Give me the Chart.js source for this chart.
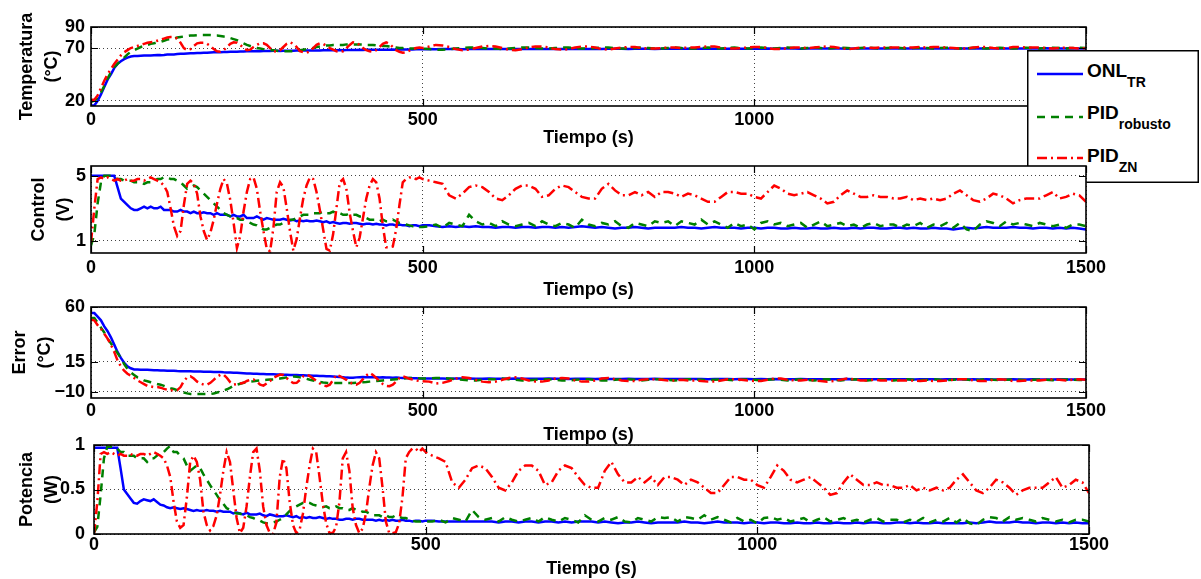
<!DOCTYPE html>
<html>
<head>
<meta charset="utf-8">
<script src="https://cdn.jsdelivr.net/npm/chart.js@4.4.0/dist/chart.umd.min.js"></script>
<style>
  html, body { margin: 0; padding: 0; background: #fff; overflow: hidden; }
  #figura { position: relative; width: 1201px; height: 579px; overflow: hidden; background: #fff; }
  #figura canvas { position: absolute; left: 0; }
  #leyenda { position: absolute; left: 1027px; top: 50px; z-index: 2; }
</style>
</head>
<body>
<div id="figura">
  <canvas id="c1" style="z-index:1"></canvas>
  <svg id="leyenda" width="173" height="134" xmlns="http://www.w3.org/2000/svg"></svg>
  <canvas id="c2" style="z-index:3"></canvas>
  <canvas id="c3" style="z-index:4"></canvas>
  <canvas id="c4" style="z-index:5"></canvas>
</div>
<script>
// Tiempo (s): cada 5 s hasta 500, luego cada 10 s
const tiempo = [
  0, 5, 10, 15, 20, 25, 30, 35, 40, 45, 50, 55, 60, 65, 70, 75, 80, 85, 90, 95,
  100, 105, 110, 115, 120, 125, 130, 135, 140, 145, 150, 155, 160, 165, 170, 175, 180, 185, 190, 195,
  200, 205, 210, 215, 220, 225, 230, 235, 240, 245, 250, 255, 260, 265, 270, 275, 280, 285, 290, 295,
  300, 305, 310, 315, 320, 325, 330, 335, 340, 345, 350, 355, 360, 365, 370, 375, 380, 385, 390, 395,
  400, 405, 410, 415, 420, 425, 430, 435, 440, 445, 450, 455, 460, 465, 470, 475, 480, 485, 490, 495,
  500,
  510, 520, 530, 540, 550, 560, 570, 580, 590, 600, 610, 620, 630, 640, 650, 660, 670, 680, 690, 700,
  710, 720, 730, 740, 750, 760, 770, 780, 790, 800, 810, 820, 830, 840, 850, 860, 870, 880, 890, 900,
  910, 920, 930, 940, 950, 960, 970, 980, 990, 1000, 1010, 1020, 1030, 1040, 1050, 1060, 1070, 1080, 1090, 1100,
  1110, 1120, 1130, 1140, 1150, 1160, 1170, 1180, 1190, 1200, 1210, 1220, 1230, 1240, 1250, 1260, 1270, 1280, 1290, 1300,
  1310, 1320, 1330, 1340, 1350, 1360, 1370, 1380, 1390, 1400, 1410, 1420, 1430, 1440, 1450, 1460, 1470, 1480, 1490, 1500
];

const nombres = ['ONL', 'PID', 'PID'];
const subindices = ['TR', 'robusto', 'ZN'];

const ticksTiempo = [0, 500, 1000, 1500];
const ticksTemp = [20, 70, 90];
const ticksControl = [1, 5];
const ticksError = [-10, 15, 60];
const ticksPotencia = [0, 0.5, 1];

// Temperatura (°C)
const tempONL = [
  15.5, 15.5, 20, 26, 33, 40, 45, 51, 55, 57.5,
  59.5, 61, 62, 62.5, 62.5, 62.8, 63, 63, 63, 63.2,
  63.4, 63.3, 63.5, 63.8, 64, 64, 64.3, 64.5, 64.5, 64.8,
  65, 65, 65.2, 65.3, 65.5, 65.5, 65.8, 66, 66, 66,
  66.2, 66.3, 66.5, 66.5, 66.6, 66.8, 66.8, 67, 67, 67,
  67.2, 67, 67.2, 67.3, 67.2, 67.4, 67.4, 67.2, 67.5, 67.5,
  67.5, 67.5, 67.6, 67.7, 67.7, 67.8, 67.7, 67.8, 67.8, 67.8,
  68, 67.9, 68, 68, 68, 68.1, 68, 68.1, 68.2, 68.2,
  68.2, 68.3, 68.2, 68.3, 68.3, 68.4, 68.4, 68.4, 68.5, 68.5,
  68.5, 68.6, 68.5, 68.6, 68.6, 68.7, 68.7, 68.7, 68.8, 68.8,
  68.8,
  69.0, 68.9, 69.0, 69.1, 69.0, 68.9, 69.0, 69.1, 69.1, 69.0,
  69.1, 69.2, 69.1, 69.0, 69.1, 69.2, 69.2, 69.1, 69.0, 69.1,
  69.2, 69.3, 69.2, 69.1, 69.2, 69.3, 69.2, 69.3, 69.4, 69.3,
  69.2, 69.3, 69.4, 69.3, 69.2, 69.3, 69.4, 69.3, 69.3, 69.4,
  69.3, 69.4, 69.5, 69.4, 69.3, 69.4, 69.5, 69.4, 69.4, 69.5,
  69.4, 69.5, 69.4, 69.5, 69.6, 69.5, 69.4, 69.5, 69.6, 69.5,
  69.5, 69.6, 69.5, 69.4, 69.5, 69.6, 69.5, 69.6, 69.5, 69.6,
  69.6, 69.5, 69.6, 69.7, 69.6, 69.5, 69.6, 69.7, 69.6, 69.5,
  69.6, 69.7, 69.6, 69.7, 69.6, 69.7, 69.8, 69.7, 69.6, 69.7,
  69.7, 69.6, 69.7, 69.8, 69.7, 69.6, 69.7, 69.8, 69.7, 69.7
];
const tempPIDr = [
  19, 20, 23, 28, 34, 41, 47, 52, 55, 58,
  61, 64, 66.5, 68, 69.5, 71, 72, 73, 74, 74.5,
  75.5, 76, 77, 78, 78.5, 79, 80, 80.5, 81, 81.5,
  82, 82, 82.3, 82.3, 82.3, 82.3, 82.3, 82, 82, 81.5,
  81, 80.5, 79.5, 78.5, 77.5, 76, 74.5, 73, 72, 71,
  70, 69.5, 69, 68.5, 68, 68, 67.5, 67, 67, 67,
  67, 67, 67.5, 68, 68.5, 69, 69.5, 70, 71, 71.5,
  72, 72.5, 72.5, 73, 73, 73, 73, 73.5, 73.5, 73.5,
  73.5, 73.5, 73.5, 73, 73, 73, 72.5, 72.5, 72, 72,
  71.5, 71, 70.5, 70, 70, 69.5, 69.5, 69.5, 69.5, 69.5,
  69.5,
  69.0, 68.5, 68.5, 69.0, 69.5, 70.0, 70.5, 70.5, 70.0, 69.5,
  69.5, 69.0, 69.5, 70.0, 70.5, 70.5, 70.0, 69.5, 69.5, 70.0,
  70.5, 70.5, 70.0, 69.5, 69.5, 70.0, 70.5, 70.5, 70.0, 69.5,
  69.5, 70.0, 70.5, 70.0, 69.5, 69.5, 70.0, 70.5, 70.0, 69.5,
  69.5, 70.0, 70.5, 70.0, 69.5, 70.0, 70.5, 70.0, 69.5, 70.0,
  70.5, 70.0, 69.5, 70.0, 70.5, 70.0, 69.5, 70.0, 70.5, 70.0,
  69.5, 70.0, 70.5, 70.0, 69.5, 70.0, 70.5, 70.0, 69.5, 70.0,
  70.5, 70.0, 69.5, 70.0, 70.3, 70.0, 69.5, 70.0, 70.3, 70.0,
  69.5, 69.8, 70.3, 70.0, 69.5, 70.0, 70.3, 70.0, 69.7, 70.0,
  70.3, 70.0, 69.7, 70.0, 70.3, 70.0, 69.7, 70.0, 70.2, 70.0
];
const tempPIDzn = [
  21, 21, 25, 32, 39, 45, 50, 55, 59, 63,
  66, 68, 70, 71, 72, 73, 74, 75, 75.5, 76,
  77, 78, 79, 80, 80.5, 80.5, 79, 75, 70, 68,
  69, 72, 74.5, 75, 75, 74, 72, 69, 67, 66.5,
  68, 71, 74, 75.5, 75, 73, 70, 68, 68.5, 71,
  73, 74.5, 74.5, 73, 70, 67, 66.5, 68, 71, 74,
  75.5, 74, 71, 67, 66, 65.5, 67, 70, 73, 74.5,
  74, 72, 70, 68.5, 67, 66.5, 67, 70, 73, 75.5,
  75, 73, 70, 68, 67, 66.5, 68, 71, 74, 75.5,
  74, 71, 68, 66.5, 65.5, 66, 67.5, 69, 70, 70.5,
  70,
  71.5, 73, 72.5, 71, 69, 68, 68.5, 70, 71.5, 72,
  71.5, 70, 68.5, 68, 69, 70.5, 71.5, 71.5, 70.5, 69,
  68.5, 69, 70.5, 71.5, 71.5, 70.5, 69, 68.5, 69.5, 70.5,
  71, 71, 70, 69.5, 69.5, 70, 70.5, 70.5, 70, 70.5,
  70.5, 71, 71.5, 71.5, 70.5, 69.5, 69.5, 70, 70.5, 71,
  71, 70, 69, 69, 70, 70.5, 70.5, 70, 70.5, 71,
  71.5, 71, 70, 69, 69.5, 70.5, 70.5, 70, 70.5, 70.5,
  70.5, 70.5, 70.5, 70.5, 71, 70.5, 71, 71, 70.5, 70,
  69.5, 69.5, 70.5, 71, 71, 70, 69.5, 70, 71, 71,
  70.5, 70.5, 70.5, 70, 69.5, 70, 70.5, 70, 69.5, 70
];

// Control (V)
const ctrlONL = [
  5, 5, 5, 5, 5, 5, 5, 5, 4.3, 3.6,
  3.4, 3.2, 3.0, 2.9, 2.9, 3.0, 3.1, 3.0, 3.1, 3.0,
  3.0, 3.1, 2.9, 2.9, 2.9, 2.8, 2.8, 2.9, 2.8, 2.8,
  2.7, 2.8, 2.7, 2.7, 2.75, 2.7, 2.7, 2.6, 2.7, 2.6,
  2.6, 2.6, 2.5, 2.6, 2.5, 2.5, 2.6, 2.4, 2.4, 2.4,
  2.5, 2.4, 2.3, 2.4, 2.35, 2.3, 2.3, 2.3, 2.35, 2.3,
  2.25, 2.3, 2.2, 2.25, 2.2, 2.25, 2.2, 2.2, 2.25, 2.2,
  2.15, 2.2, 2.1, 2.15, 2.1, 2.05, 2.1, 2.1, 2.05, 2.1,
  2.1, 2.05, 2.0, 2.05, 2.05, 2.0, 2.05, 2.0, 2.0, 1.95,
  2.0, 2.0, 1.95, 2.0, 1.95, 1.95, 1.9, 1.95, 1.95, 1.9,
  1.95,
  1.95, 1.9, 1.85, 1.9, 1.85, 1.9, 1.85, 1.9, 1.85, 1.85,
  1.8, 1.85, 1.85, 1.8, 1.85, 1.85, 1.8, 1.85, 1.85, 1.8,
  1.85, 1.8, 1.85, 1.9, 1.85, 1.8, 1.85, 1.8, 1.75, 1.8,
  1.8, 1.85, 1.8, 1.75, 1.8, 1.8, 1.8, 1.8, 1.85, 1.8,
  1.8, 1.75, 1.8, 1.85, 1.8, 1.8, 1.8, 1.75, 1.8, 1.8,
  1.75, 1.8, 1.8, 1.75, 1.75, 1.8, 1.75, 1.75, 1.8, 1.75,
  1.75, 1.8, 1.75, 1.75, 1.8, 1.75, 1.8, 1.8, 1.75, 1.75,
  1.8, 1.8, 1.75, 1.8, 1.75, 1.75, 1.8, 1.75, 1.75, 1.7,
  1.75, 1.8, 1.75, 1.8, 1.85, 1.8, 1.8, 1.8, 1.85, 1.8,
  1.8, 1.75, 1.8, 1.8, 1.75, 1.8, 1.75, 1.8, 1.75, 1.7
];
const ctrlPIDr = [
  0.7, 1.4, 3.3, 4.6, 5.0, 5.0, 5.0, 4.9, 4.8, 4.8,
  4.7, 4.7, 4.7, 4.6, 4.6, 4.6, 4.5, 4.6, 4.6, 4.7,
  4.8, 4.8, 4.9, 4.9, 4.8, 4.8, 4.7, 4.6, 4.4, 4.2,
  4.3, 4.4, 4.3, 4.1, 3.9, 3.7, 3.5, 3.3, 3.1, 2.9,
  2.7, 2.6, 2.5, 2.4, 2.4, 2.3, 2.3, 2.2, 2.1, 2.0,
  1.95, 1.8, 1.7, 1.7, 1.8, 1.9, 2.0, 2.0, 2.1, 2.2,
  2.3, 2.3, 2.4, 2.5, 2.6, 2.6, 2.6, 2.7, 2.7, 2.7,
  2.8, 2.7, 2.7, 2.8, 2.7, 2.7, 2.6, 2.6, 2.7, 2.6,
  2.6, 2.5, 2.5, 2.4, 2.3, 2.3, 2.3, 2.2, 2.3, 2.2,
  2.2, 2.3, 2.2, 2.1, 2.1, 2.0, 1.95, 1.9, 1.9, 1.85,
  1.85,
  1.9, 2.0, 1.8, 2.1, 2.0, 1.9, 2.6, 2.2, 2.0, 2.1,
  1.9, 2.2, 2.0, 1.9, 2.0, 2.1, 1.9, 2.2, 2.0, 1.9,
  2.1, 2.0, 1.8, 2.3, 2.0, 1.9, 2.1, 2.0, 2.2, 1.9,
  1.8, 2.1, 2.0, 1.9, 2.2, 2.1, 2.2, 1.9, 2.2, 2.1,
  2.0, 2.3, 2.0, 2.2, 2.0, 1.8, 2.1, 1.9, 2.0, 1.7,
  2.1, 2.2, 2.0, 2.1, 1.9, 2.0, 2.1, 1.8, 2.0, 2.2,
  1.9, 2.0, 2.1, 1.9, 2.0, 1.8, 2.0, 2.1, 1.9, 2.0,
  2.0, 1.8, 2.0, 1.9, 2.1, 1.8, 2.0, 1.9, 2.1, 1.8,
  2.1, 1.7, 1.6, 2.0, 2.2, 2.1, 1.9, 2.2, 2.0, 2.1,
  2.0, 1.9, 2.1, 2.0, 1.9, 2.0, 1.8, 2.0, 2.0, 1.9
];
const ctrlPIDzn = [
  0.9, 3.0, 4.8, 4.9, 4.8, 4.9, 4.8, 4.7, 4.8, 4.7,
  4.7, 4.8, 4.7, 4.7, 4.8, 4.8, 4.7, 4.8, 4.9, 4.8,
  4.7, 4.6, 4.4, 4.0, 3.0, 1.9, 1.3, 1.6, 3.2, 4.5,
  4.7, 4.5, 3.9, 2.5, 1.6, 1.05, 1.5, 2.3, 3.3, 4.2,
  4.8, 4.5, 3.5, 2.1, 0.55, 1.3, 2.8, 4.0, 4.8, 4.9,
  4.2, 2.8, 1.6, 0.5, 0.35, 1.8, 4.0, 4.6, 4.3, 3.0,
  1.6, 0.4, 1.1, 2.4, 3.6, 4.4, 4.9, 4.8, 4.0, 2.9,
  1.7, 0.5, 0.4, 1.4, 3.0, 4.6, 4.8, 4.2, 2.7, 1.6,
  0.6, 1.2, 2.4, 3.6, 4.4, 4.8, 4.6, 3.6, 1.9, 0.6,
  0.6, 0.65, 1.7, 3.2, 4.6, 4.8, 4.9, 4.9, 4.8, 4.9,
  4.8,
  4.7, 4.6, 4.5, 3.8, 3.6, 3.9, 4.3, 4.4, 4.3, 4.0,
  3.6, 3.5, 3.8, 4.2, 4.4, 4.4, 4.2, 3.7, 3.8, 4.2,
  4.4, 4.3, 4.0, 3.7, 3.6, 3.6, 4.2, 4.5, 4.1, 3.8,
  3.8, 4.0, 3.8, 4.0, 3.7, 4.0, 4.0, 3.9, 3.7, 3.9,
  3.8, 3.6, 3.4, 3.4, 3.7, 4.0, 4.0, 3.9, 3.9, 3.7,
  3.6, 4.0, 4.4, 4.2, 3.9, 3.8, 3.9, 4.0, 3.8, 3.6,
  3.3, 3.4, 3.8, 4.1, 3.9, 3.7, 3.7, 3.8, 3.7, 3.7,
  3.6, 3.6, 3.7, 3.5, 3.6, 3.5, 3.6, 3.5, 3.6, 3.9,
  4.1, 3.8, 3.5, 3.4, 3.6, 3.9, 3.8, 3.6, 3.3, 3.5,
  3.6, 3.6, 3.6, 3.8, 4.0, 3.6, 3.7, 3.9, 3.8, 3.4
];

// Error (°C)
const errONL = [
  55, 55, 52, 49, 44, 40, 35, 29, 23, 18,
  14, 11, 9.5, 8.5, 8.5, 8.3, 8.2, 8.2, 8, 7.8,
  7.9, 7.6, 7.7, 7.5, 7.4, 7.4, 7.2, 7.1, 7.1, 7,
  7, 6.9, 6.8, 6.9, 6.7, 6.6, 6.6, 6.5, 6.4, 6.4,
  6.2, 6.1, 6, 5.9, 5.8, 5.6, 5.4, 5.2, 5.1, 5,
  4.9, 4.8, 4.7, 4.6, 4.6, 4.5, 4.4, 4.3, 4.2, 4.1,
  4, 4, 3.9, 3.8, 3.7, 3.6, 3.5, 3.4, 3.3, 3.2,
  3.1, 3, 2.9, 2.8, 2.6, 2.4, 2.2, 1.8, 1.6, 1.7,
  2.0, 2.2, 2.3, 2.2, 2.1, 2.2, 2.0, 1.9, 2.0, 1.9,
  1.8, 1.7, 1.8, 1.6, 1.5, 1.4, 1.4, 1.3, 1.2, 1.1,
  1.1,
  1.0, 1.1, 1.0, 0.9, 1.0, 1.1, 1.0, 0.9, 0.9, 1.0,
  0.9, 0.8, 0.9, 1.0, 0.9, 0.8, 0.8, 0.9, 1.0, 0.9,
  0.8, 0.7, 0.8, 0.9, 0.8, 0.7, 0.8, 0.7, 0.6, 0.7,
  0.8, 0.7, 0.6, 0.7, 0.8, 0.7, 0.6, 0.7, 0.7, 0.6,
  0.7, 0.6, 0.5, 0.6, 0.7, 0.6, 0.5, 0.6, 0.6, 0.5,
  0.6, 0.5, 0.6, 0.5, 0.4, 0.5, 0.6, 0.5, 0.4, 0.5,
  0.5, 0.4, 0.5, 0.6, 0.5, 0.4, 0.5, 0.4, 0.5, 0.4,
  0.4, 0.5, 0.4, 0.3, 0.4, 0.5, 0.4, 0.3, 0.4, 0.5,
  0.4, 0.3, 0.4, 0.3, 0.4, 0.3, 0.2, 0.3, 0.4, 0.3,
  0.3, 0.4, 0.3, 0.2, 0.3, 0.4, 0.3, 0.2, 0.3, 0.3
];
const errPIDr = [
  51, 51, 47, 43, 39, 34, 30, 26, 22, 18,
  13, 9, 6, 4, 2, 1, -0.5, -1.2, -2, -2.8,
  -3.5, -4, -5, -6, -7, -7.6, -8.5, -9.5, -10.5, -11.2,
  -11.7, -11.7, -11.7, -11.7, -11.7, -11.7, -11.7, -11.3, -10.5, -9.8,
  -8.8, -7.8, -6.5, -5, -4, -3.2, -2.5, -2, -1.5, -1.2,
  -0.8, -0.5, -0.2, 0, 0.2, 0.3, 0.5, 1, 1.5, 2,
  2.5, 2.8, 2.5, 2, 1.5, 0.8, 0, -0.6, -1.2, -1.8,
  -2.2, -2.5, -2.6, -2.6, -2.6, -2.6, -2.6, -2.6, -2.6, -2.6,
  -2.4, -2.2, -2, -1.8, -1.5, -1.2, -1, -0.8, -0.5, -0.2,
  0, 0.2, 0.5, 0.8, 1, 1.3, 1.5, 1.6, 1.5, 1.2,
  1,
  1.0, 1.5, 1.5, 1.0, 0.5, 0.0, -0.5, -0.5, 0.0, 0.5,
  0.5, 1.0, 0.5, 0.0, -0.5, -0.5, 0.0, 0.5, 0.5, 0.0,
  -0.5, -0.5, 0.0, 0.5, 0.5, 0.0, -0.5, -0.5, 0.0, 0.5,
  0.5, 0.0, -0.5, 0.0, 0.5, 0.5, 0.0, -0.5, 0.0, 0.5,
  0.5, 0.0, -0.5, 0.0, 0.5, 0.0, -0.5, 0.0, 0.5, 0.0,
  -0.5, 0.0, 0.5, 0.0, -0.5, 0.0, 0.5, 0.0, -0.5, 0.0,
  0.5, 0.0, -0.5, 0.0, 0.5, 0.0, -0.5, 0.0, 0.5, 0.0,
  -0.5, 0.0, 0.5, 0.0, -0.3, 0.0, 0.5, 0.0, -0.3, 0.0,
  0.5, 0.2, -0.3, 0.0, 0.5, 0.0, -0.3, 0.0, 0.3, 0.0,
  -0.3, 0.0, 0.3, 0.0, -0.3, 0.0, 0.3, 0.0, -0.2, 0.0
];
const errPIDzn = [
  49.5, 49, 45, 42, 38, 34, 29, 23, 16, 11,
  7.5, 5, 3.5, 1.5, -0.5, -2, -3.5, -5, -5.5, -6,
  -6, -6.5, -7.5, -8.2, -8.6, -8.7, -8.5, -6, -1, 2,
  2.9, 1, -1.5, -3, -4, -4, -2.5, 0, 2.5, 4,
  4.3, 1.5, -2, -4, -3.5, -3, -2.5, -1, 0, 0.2,
  -1.5, -4, -4.8, -3, -1, 1.6, 3, 4.3, 4, 1.5,
  -1, -2.6, -2.5, 0, 3, 4.3, 3, 1, -1, -3,
  -4.5, -5.3, -4, 0, 4.3, 3, 1.5, 0, -2, -3.5,
  -4, -2.5, 0.5, 3.5, 5.6, 4, 1.5, -1.2, -3.5, -5,
  -5.3, -4, -1.5, 1.5, 2.9, 2, 0.8, 0.2, -0.5, -1,
  -1.2,
  -1.5, -3, -2.5, -1, 1, 2, 1.5, 0, -1.5, -2,
  -1.5, 0, 1.5, 2, 1, -0.5, -1.5, -1.5, -0.5, 1,
  1.5, 1, -0.5, -1.5, -1.5, -0.5, 1, 1.5, 0.5, -0.5,
  -1, -1, 0, 0.5, 0.5, 0, -0.5, -0.5, 0, -0.5,
  -0.5, -1, -1.5, -1.5, -0.5, 0.5, 0.5, 0, -0.5, -1,
  -1, 0, 1, 1, 0, -0.5, -0.5, 0, -0.5, -1,
  -1.5, -1, 0, 1, 0.5, -0.5, -0.5, 0, -0.5, -0.5,
  -0.5, -0.5, -0.5, -0.5, -1, -0.5, -1, -1, -0.5, 0,
  0.5, 0.5, -0.5, -1, -1, 0, 0.5, 0, -1, -1,
  -0.5, -0.5, -0.5, 0, 0.5, 0, -0.5, 0, 0.5, 0
];

// Potencia (W)
const potONL = [
  0.97, 0.97, 0.97, 0.97, 0.97, 0.97, 0.97, 0.97, 0.74, 0.50,
  0.45, 0.40, 0.35, 0.34, 0.37, 0.39, 0.38, 0.37, 0.39, 0.36,
  0.33, 0.32, 0.30, 0.29, 0.30, 0.29, 0.28, 0.29, 0.28, 0.27,
  0.26, 0.27, 0.26, 0.26, 0.27, 0.26, 0.26, 0.25, 0.26, 0.25,
  0.25, 0.25, 0.23, 0.24, 0.23, 0.22, 0.24, 0.22, 0.22, 0.22,
  0.23, 0.21, 0.20, 0.22, 0.21, 0.20, 0.20, 0.20, 0.21, 0.20,
  0.19, 0.20, 0.18, 0.19, 0.18, 0.19, 0.18, 0.18, 0.19, 0.18,
  0.17, 0.18, 0.17, 0.17, 0.16, 0.16, 0.17, 0.17, 0.16, 0.17,
  0.17, 0.16, 0.16, 0.16, 0.16, 0.15, 0.16, 0.15, 0.16, 0.15,
  0.16, 0.15, 0.15, 0.16, 0.15, 0.15, 0.14, 0.15, 0.15, 0.14,
  0.15,
  0.15, 0.14, 0.14, 0.14, 0.14, 0.14, 0.14, 0.14, 0.14, 0.14,
  0.13, 0.14, 0.14, 0.13, 0.14, 0.14, 0.13, 0.14, 0.14, 0.13,
  0.14, 0.13, 0.14, 0.14, 0.14, 0.13, 0.14, 0.13, 0.12, 0.13,
  0.13, 0.14, 0.13, 0.12, 0.13, 0.13, 0.13, 0.13, 0.14, 0.13,
  0.13, 0.12, 0.13, 0.14, 0.13, 0.13, 0.13, 0.12, 0.13, 0.13,
  0.12, 0.13, 0.13, 0.12, 0.12, 0.13, 0.12, 0.12, 0.13, 0.12,
  0.12, 0.13, 0.12, 0.12, 0.13, 0.12, 0.13, 0.13, 0.12, 0.12,
  0.13, 0.13, 0.12, 0.13, 0.12, 0.12, 0.13, 0.12, 0.12, 0.12,
  0.12, 0.13, 0.12, 0.13, 0.14, 0.13, 0.13, 0.13, 0.14, 0.13,
  0.13, 0.12, 0.13, 0.13, 0.12, 0.13, 0.12, 0.13, 0.12, 0.12
];
const potPIDr = [
  0.02, 0.08, 0.44, 0.85, 0.98, 0.98, 0.98, 0.96, 0.92, 0.92,
  0.88, 0.88, 0.88, 0.85, 0.85, 0.85, 0.81, 0.85, 0.85, 0.88,
  0.92, 0.92, 0.96, 0.99, 0.92, 0.92, 0.88, 0.85, 0.77, 0.71,
  0.74, 0.77, 0.74, 0.67, 0.61, 0.55, 0.49, 0.44, 0.38, 0.34,
  0.29, 0.27, 0.25, 0.23, 0.23, 0.21, 0.21, 0.19, 0.18, 0.16,
  0.15, 0.13, 0.12, 0.12, 0.13, 0.14, 0.16, 0.18, 0.22, 0.26,
  0.29, 0.31, 0.33, 0.35, 0.36, 0.35, 0.33, 0.32, 0.31, 0.30,
  0.31, 0.29, 0.29, 0.31, 0.29, 0.29, 0.27, 0.27, 0.29, 0.27,
  0.27, 0.25, 0.25, 0.23, 0.21, 0.21, 0.21, 0.19, 0.21, 0.19,
  0.19, 0.21, 0.19, 0.18, 0.18, 0.16, 0.15, 0.14, 0.14, 0.14,
  0.14,
  0.14, 0.16, 0.13, 0.18, 0.16, 0.14, 0.27, 0.19, 0.16, 0.18,
  0.14, 0.19, 0.16, 0.14, 0.16, 0.18, 0.14, 0.19, 0.16, 0.14,
  0.18, 0.16, 0.13, 0.21, 0.16, 0.14, 0.18, 0.16, 0.19, 0.14,
  0.13, 0.18, 0.16, 0.14, 0.19, 0.18, 0.19, 0.14, 0.19, 0.18,
  0.16, 0.21, 0.16, 0.19, 0.16, 0.13, 0.18, 0.14, 0.16, 0.12,
  0.18, 0.19, 0.16, 0.18, 0.14, 0.16, 0.18, 0.13, 0.16, 0.19,
  0.14, 0.16, 0.18, 0.14, 0.16, 0.13, 0.16, 0.18, 0.14, 0.16,
  0.16, 0.13, 0.16, 0.14, 0.18, 0.13, 0.16, 0.14, 0.18, 0.13,
  0.18, 0.12, 0.10, 0.16, 0.19, 0.18, 0.14, 0.19, 0.16, 0.18,
  0.16, 0.14, 0.18, 0.16, 0.14, 0.16, 0.13, 0.16, 0.16, 0.14
];
const potPIDzn = [
  0.0, 0.36, 0.90, 0.92, 0.90, 0.92, 0.90, 0.88, 0.90, 0.88,
  0.88, 0.90, 0.88, 0.88, 0.90, 0.90, 0.88, 0.90, 0.92, 0.90,
  0.88, 0.85, 0.77, 0.64, 0.36, 0.14, 0.07, 0.10, 0.41, 0.81,
  0.88, 0.81, 0.61, 0.25, 0.10, 0.04, 0.09, 0.21, 0.44, 0.71,
  0.92, 0.81, 0.49, 0.18, 0.01, 0.07, 0.31, 0.64, 0.92, 0.96,
  0.71, 0.31, 0.10, 0.01, 0.0, 0.13, 0.64, 0.85, 0.74, 0.36,
  0.10, 0.01, 0.05, 0.23, 0.52, 0.77, 0.96, 0.92, 0.64, 0.34,
  0.12, 0.01, 0.01, 0.08, 0.36, 0.85, 0.92, 0.71, 0.29, 0.10,
  0.01, 0.06, 0.23, 0.52, 0.77, 0.92, 0.85, 0.52, 0.14, 0.01,
  0.01, 0.02, 0.12, 0.41, 0.85, 0.92, 0.96, 0.96, 0.92, 0.96,
  0.92,
  0.88, 0.85, 0.81, 0.58, 0.52, 0.61, 0.74, 0.77, 0.74, 0.64,
  0.52, 0.49, 0.58, 0.71, 0.77, 0.77, 0.71, 0.55, 0.58, 0.71,
  0.77, 0.74, 0.64, 0.55, 0.52, 0.52, 0.71, 0.81, 0.67, 0.58,
  0.58, 0.64, 0.58, 0.64, 0.55, 0.64, 0.64, 0.61, 0.55, 0.61,
  0.58, 0.52, 0.46, 0.46, 0.55, 0.64, 0.64, 0.61, 0.61, 0.55,
  0.52, 0.64, 0.77, 0.71, 0.61, 0.58, 0.61, 0.64, 0.58, 0.52,
  0.44, 0.46, 0.58, 0.67, 0.61, 0.55, 0.55, 0.58, 0.55, 0.55,
  0.52, 0.52, 0.55, 0.49, 0.52, 0.49, 0.52, 0.49, 0.52, 0.61,
  0.67, 0.58, 0.49, 0.46, 0.52, 0.61, 0.58, 0.52, 0.44, 0.49,
  0.52, 0.52, 0.52, 0.58, 0.64, 0.52, 0.55, 0.61, 0.58, 0.46
];

const colores = ['#0000ff', '#008000', '#ff0000'];
const guiones = [[], [8, 6], [10, 4, 2, 4]];
const FUENTE = "'Liberation Sans', Arial, Helvetica, sans-serif";
const MARGEN_SUP = 20;   // espacio sobre el área de trazado en cada canvas
const ALTO_EJE_X = 50;   // altura reservada para etiquetas y título del eje x

Chart.defaults.font.family = FUENTE;
Chart.defaults.font.weight = 'bold';
Chart.defaults.font.size = 18;
Chart.defaults.color = '#000';

// caja de ejes, marcas interiores y fondo blanco (estilo MATLAB)
const marco = {
  id: 'marco',
  beforeDraw(chart, args, opts) {
    if (!opts.fondo) return;
    const { ctx, chartArea: a } = chart;
    ctx.save();
    ctx.fillStyle = '#fff';
    ctx.fillRect(a.left, a.top, a.width, a.height);
    ctx.restore();
  },
  afterDraw(chart) {
    const { ctx, chartArea: a, scales: { x, y } } = chart;
    const L = 7;
    ctx.save();
    ctx.strokeStyle = '#000';
    ctx.lineWidth = 1.2;
    ctx.beginPath();
    x.ticks.forEach(t => {
      const px = Math.round(x.getPixelForValue(t.value)) + 0.5;
      ctx.moveTo(px, a.bottom); ctx.lineTo(px, a.bottom - L);
      ctx.moveTo(px, a.top); ctx.lineTo(px, a.top + L);
    });
    y.ticks.forEach(t => {
      const py = Math.round(y.getPixelForValue(t.value)) + 0.5;
      ctx.moveTo(a.left, py); ctx.lineTo(a.left + L, py);
      ctx.moveTo(a.right, py); ctx.lineTo(a.right - L, py);
    });
    ctx.stroke();
    ctx.lineWidth = 1.6;
    ctx.strokeRect(a.left, a.top, a.width, a.height);
    ctx.restore();
  }
};

const paneles = [
  { id: 'c1', titulo: ['Temperatura', '(°C)'], series: [tempONL, tempPIDr, tempPIDzn], min: 15, max: 90, ticks: ticksTemp,
    left: 91, right: 1086, top: 27, bottom: 106, padTitY: 15, padTickY: 6, padTickX: 3, padTitX: 7, fondo: false },
  { id: 'c2', titulo: ['Control', '(V)'], series: [ctrlONL, ctrlPIDr, ctrlPIDzn], min: 0.25, max: 5.6, ticks: ticksControl,
    left: 91, right: 1086, top: 166, bottom: 253, padTitY: 27, padTickY: 5, padTickX: 4.5, padTitX: 2, fondo: true },
  { id: 'c3', titulo: ['Error', '(°C)'], series: [errONL, errPIDr, errPIDzn], min: -15, max: 60, ticks: ticksError,
    left: 91, right: 1086, top: 307, bottom: 398, padTitY: 8, padTickY: 6, padTickX: 2.6, padTitX: 2, fondo: false },
  { id: 'c4', titulo: ['Potencia', '(W)'], series: [potONL, potPIDr, potPIDzn], min: 0, max: 1, ticks: ticksPotencia,
    left: 94, right: 1089, top: 445, bottom: 534, padTitY: 15, padTickY: 9, padTickX: 0.6, padTitX: 3.7, fondo: false }
];

paneles.forEach(p => {
  const canvas = document.getElementById(p.id);
  canvas.width = 1201;
  canvas.height = MARGEN_SUP + (p.bottom - p.top) + ALTO_EJE_X;
  canvas.style.top = (p.top - MARGEN_SUP) + 'px';

  new Chart(canvas, {
    type: 'line',
    data: {
      datasets: p.series.map((serie, k) => ({
        label: nombres[k] + subindices[k],
        data: tiempo.map((t, j) => ({ x: t, y: serie[j] })),
        borderColor: colores[k],
        borderWidth: 2.5,
        borderDash: guiones[k],
        pointRadius: 0,
        fill: false,
        tension: 0,
        order: 3 - k
      }))
    },
    options: {
      responsive: false,
      animation: false,
      events: [],
      layout: { padding: { top: MARGEN_SUP, left: 0, right: 1201 - p.right, bottom: 0 } },
      plugins: {
        legend: { display: false },
        tooltip: { enabled: false },
        marco: { fondo: p.fondo }
      },
      scales: {
        x: {
          type: 'linear', min: 0, max: 1500,
          afterBuildTicks: s => { s.ticks = ticksTiempo.map(v => ({ value: v })); },
          afterFit: s => { s.height = ALTO_EJE_X; s.paddingLeft = 0; s.paddingRight = 0; },
          grid: { color: '#444', lineWidth: 1, drawTicks: false },
          border: { display: false, dash: [1, 3] },
          ticks: { padding: p.padTickX, maxRotation: 0, autoSkip: false, callback: v => String(v) },
          title: { display: true, text: 'Tiempo (s)', font: { size: 18, weight: 'bold', lineHeight: 1.2 },
                   padding: { top: 0, bottom: p.padTitX } }
        },
        y: {
          min: p.min, max: p.max,
          afterBuildTicks: s => { s.ticks = p.ticks.map(v => ({ value: v })); },
          afterFit: s => { s.width = p.left; s.paddingTop = 0; s.paddingBottom = 0; },
          grid: { color: '#444', lineWidth: 1, drawTicks: false },
          border: { display: false, dash: [1, 3] },
          ticks: { padding: p.padTickY, callback: v => v < 0 ? '\u2212' + Math.abs(v) : String(v) },
          title: { display: true, text: p.titulo, font: { size: 18, weight: 'bold', lineHeight: 1.36 },
                   padding: { top: p.padTitY, bottom: 0 } }
        }
      }
    },
    plugins: [marco]
  });
});

// leyenda con subíndices, dibujada encima del primer panel
const svg = document.getElementById('leyenda');
const filasY = [24, 67, 108];
const textoY = [27, 69, 112];
let html = '<rect x="0.75" y="0.75" width="170.5" height="131.5" fill="#fff" stroke="#000" stroke-width="1.5"/>';
nombres.forEach((n, k) => {
  html += '<line x1="10" y1="' + filasY[k] + '" x2="56" y2="' + filasY[k] + '" stroke="' + colores[k] +
          '" stroke-width="2.5" stroke-dasharray="' + (guiones[k].length ? guiones[k].join(' ') : 'none') + '"/>';
  html += '<text x="60" y="' + textoY[k] + '" font-family="' + FUENTE.replace(/'/g, '') + '" font-weight="bold" font-size="19">' +
          n + '<tspan font-size="14" dy="10">' + subindices[k] + '</tspan></text>';
});
svg.innerHTML = html;
</script>
</body>
</html>
